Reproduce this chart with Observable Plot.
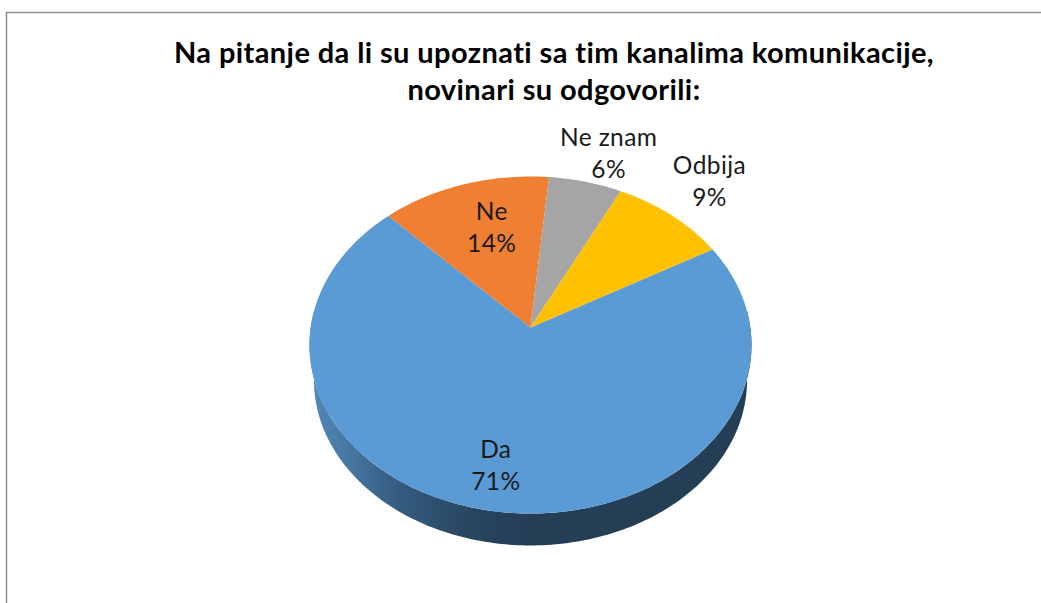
<!DOCTYPE html>
<html>
<head>
<meta charset="utf-8">
<script src="https://cdn.jsdelivr.net/npm/d3@7"></script>
<script src="https://cdn.jsdelivr.net/npm/@observablehq/plot@0.6"></script>
<style>
html,body{margin:0;padding:0;background:#fff;overflow:hidden}
svg{display:block}
</style>
</head>
<body>
<div id="chart"></div>
<script>
// Data
const categories = ["Da", "Ne", "Ne znam", "Odbija"];
const shares = [70.9, 13.7, 5.9, 9.4];
const colors = ["#5b9bd5", "#ef7f33", "#a5a5a5", "#ffc000"];
const titleText = "Na pitanje da li su upoznati sa tim kanalima komunikacije,\nnovinari su odgovorili:";

// Placement of data labels in pie space (degrees clockwise from top, reach as fraction of radius)
const labelAngle = [190.8, 343.6, 18.8, 42.9];
const labelReach = [0.776, 0.667, 1.237, 1.316];

// Tilted-disc view
const view = {cx: 530, cy: 327, A: 219.8, B: 166.7, k: 0.104, depth: 36, base: 0.98, start: 60.5};
const project = (deg, r = 1, drop = 0) => {
  const t = deg * Math.PI / 180;
  const u = r * Math.sin(t), v = -r * Math.cos(t);
  const w = 1 - view.k * v;
  return {x: view.cx + view.A * u / w, y: view.cy + view.B * v / w + drop};
};

// Slices
const total = d3.sum(shares);
let running = view.start;
const slices = categories.map((label, i) => {
  const a0 = running, a1 = running + shares[i] / total * 360;
  running = a1;
  return {label, a0, a1, share: shares[i]};
});
const slicePoints = slices.flatMap(s => {
  const pts = [{label: s.label, ...project(0, 0)}];
  const n = Math.ceil(s.a1 - s.a0);
  d3.range(n + 1).forEach(j => pts.push({label: s.label, ...project(s.a0 + (s.a1 - s.a0) * j / n)}));
  return pts;
});

// Side wall: lower rim of the disc and its dropped copy
const rimAngles = d3.range(84, 277);
const wallPoints = [
  ...rimAngles.map(a => project(a)),
  ...rimAngles.slice().reverse().map(a => project(a, view.base, view.depth))
];

const labels = slices.map((s, i) => ({
  text: `${s.label}\n${Math.round(s.share)}%`,
  ...project(labelAngle[i], labelReach[i])
}));

const gradient = () => {
  const defs = d3.create("svg:defs");
  const g = defs.append("linearGradient").attr("id", "wallFade").attr("x1", 0).attr("x2", 1).attr("y1", 0).attr("y2", 0);
  [[0, "#558ab8"], [0.07, "#4a7ba6"], [0.2, "#345c80"], [0.36, "#284660"], [0.5, "#243e56"], [1, "#243e56"]]
    .forEach(([o, c]) => g.append("stop").attr("offset", o).attr("stop-color", c));
  return defs.node();
};

const chart = Plot.plot({
  width: 1041,
  height: 603,
  margin: 0,
  x: {domain: [0, 1041], range: [0, 1041], axis: null},
  y: {domain: [0, 603], range: [0, 603], axis: null},
  color: {domain: categories, range: colors},
  style: {background: "#fff", fontFamily: "Lato, sans-serif"},
  marks: [
    gradient,
    Plot.ruleX([6], {y1: 12, y2: 603, stroke: "#8e8e8e", strokeWidth: 1.5}),
    Plot.ruleY([12], {x1: 6, x2: 1041, stroke: "#8e8e8e", strokeWidth: 1.5}),
    Plot.line(wallPoints, {x: "x", y: "y", fill: "url(#wallFade)", stroke: "none"}),
    Plot.line(slicePoints, {x: "x", y: "y", z: "label", fill: "label", stroke: "none"}),
    Plot.text(labels, {x: "x", y: "y", dy: -1.5, text: "text", fontSize: 24.5, lineHeight: 1.29, fill: "#1a1a1a", lineAnchor: "middle"}),
    Plot.text([titleText], {x: () => 553.5, y: () => 69.5, text: d => d, fontSize: 29, fontWeight: 700, lineHeight: 1.28, fill: "#000", lineAnchor: "middle"})
  ]
});
chart.querySelectorAll("text").forEach(t => {
  t.style.letterSpacing = t.getAttribute("font-size") == "29" ? "0.36px" : "0.4px";
});
document.getElementById("chart").append(chart);
</script>
</body>
</html>
